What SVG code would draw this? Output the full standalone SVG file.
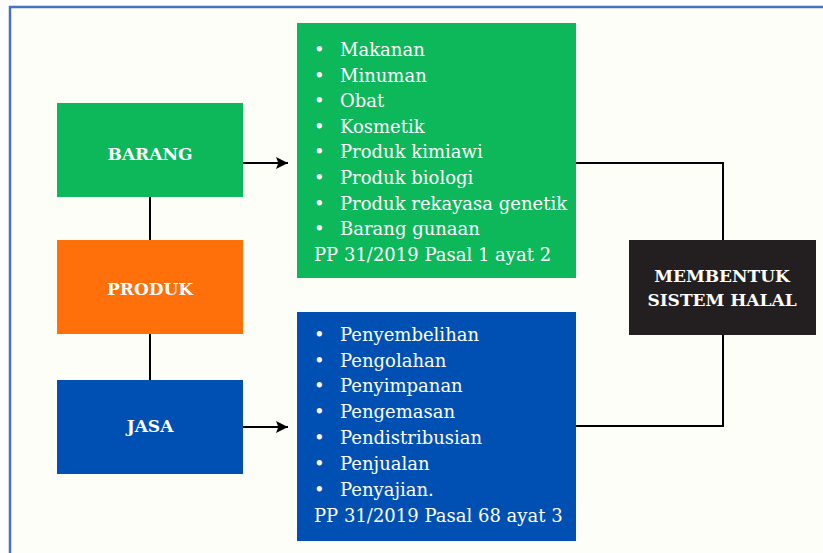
<svg xmlns="http://www.w3.org/2000/svg" width="823" height="553" viewBox="0 0 823 553">
<defs>
<style>
.lbl{font-family:"DejaVu Serif","Liberation Serif",serif;font-weight:bold;font-size:17px;fill:#FFFFFF;text-anchor:middle}
.lst{font-family:"DejaVu Serif","Liberation Serif",serif;font-size:18px;fill:#FFFFFF}
.con{stroke:#000000;stroke-width:2;fill:none}
</style>
<marker id="arr" viewBox="0 0 10 10" refX="10" refY="5" markerWidth="6" markerHeight="6" orient="auto" markerUnits="strokeWidth">
<path d="M0,0 L10,5 L0,10 L2,5 z" fill="#000000"/>
</marker>
</defs>
<rect x="0" y="0" width="823" height="553" fill="#FFFFFF"/>
<rect x="10" y="7" width="813" height="546" fill="#FEFEF9"/>
<path d="M10,553 V7 H823" stroke="#4472C4" stroke-width="2.5" fill="none"/>

<g id="connectors">
<line class="con" x1="150" y1="197" x2="150" y2="240"/>
<line class="con" x1="150" y1="334" x2="150" y2="380"/>
<line class="con" x1="243" y1="163" x2="288" y2="163" marker-end="url(#arr)"/>
<line class="con" x1="243" y1="427" x2="288" y2="427" marker-end="url(#arr)"/>
<polyline class="con" points="576,163 723,163 723,240"/>
<polyline class="con" points="723,335 723,426 576,426"/>
</g>

<g id="barang">
<rect x="57" y="103" width="186" height="94" fill="#0DB85A"/>
<text class="lbl" x="150" y="160">BARANG</text>
</g>
<g id="produk">
<rect x="57" y="240" width="186" height="94" fill="#FF6F0A"/>
<text class="lbl" x="150" y="295">PRODUK</text>
</g>
<g id="jasa">
<rect x="57" y="380" width="186" height="94" fill="#0050B4"/>
<text class="lbl" x="150" y="432">JASA</text>
</g>

<g id="barang-list">
<rect x="297" y="23" width="279" height="255" fill="#0DB85A"/>
<text class="lst">
<tspan x="314" y="56">•</tspan><tspan x="340" y="56">Makanan</tspan>
<tspan x="314" y="81.6">•</tspan><tspan x="340" y="81.6">Minuman</tspan>
<tspan x="314" y="107.2">•</tspan><tspan x="340" y="107.2">Obat</tspan>
<tspan x="314" y="132.8">•</tspan><tspan x="340" y="132.8">Kosmetik</tspan>
<tspan x="314" y="158.4">•</tspan><tspan x="340" y="158.4">Produk kimiawi</tspan>
<tspan x="314" y="184">•</tspan><tspan x="340" y="184">Produk biologi</tspan>
<tspan x="314" y="209.6">•</tspan><tspan x="340" y="209.6">Produk rekayasa genetik</tspan>
<tspan x="314" y="235.2">•</tspan><tspan x="340" y="235.2">Barang gunaan</tspan>
<tspan x="314" y="260.8">PP 31/2019 Pasal 1 ayat 2</tspan>
</text>
</g>

<g id="jasa-list">
<rect x="297" y="312" width="279" height="229" fill="#0050B4"/>
<text class="lst">
<tspan x="314" y="340.7">•</tspan><tspan x="340" y="340.7">Penyembelihan</tspan>
<tspan x="314" y="366.6">•</tspan><tspan x="340" y="366.6">Pengolahan</tspan>
<tspan x="314" y="392.4">•</tspan><tspan x="340" y="392.4">Penyimpanan</tspan>
<tspan x="314" y="418.3">•</tspan><tspan x="340" y="418.3">Pengemasan</tspan>
<tspan x="314" y="444.1">•</tspan><tspan x="340" y="444.1">Pendistribusian</tspan>
<tspan x="314" y="470">•</tspan><tspan x="340" y="470">Penjualan</tspan>
<tspan x="314" y="495.8">•</tspan><tspan x="340" y="495.8">Penyajian.</tspan>
<tspan x="314" y="521.7">PP 31/2019 Pasal 68 ayat 3</tspan>
</text>
</g>

<g id="membentuk">
<rect x="629" y="240" width="187" height="95" fill="#231F20"/>
<text class="lbl" x="722" y="282">MEMBENTUK</text>
<text class="lbl" x="722" y="306">SISTEM HALAL</text>
</g>
</svg>
